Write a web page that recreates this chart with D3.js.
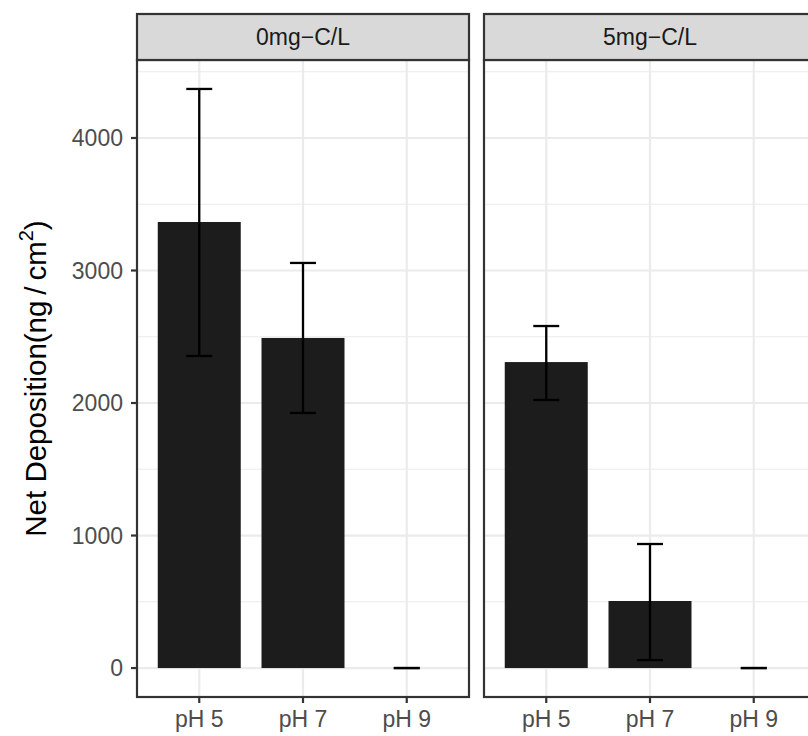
<!DOCTYPE html>
<html>
<head>
<meta charset="utf-8">
<script src="https://cdn.jsdelivr.net/npm/d3@7"></script>
<style>
  html, body { margin: 0; padding: 0; background: #fff; }
  svg { display: block; font-family: "Liberation Sans", Arial, Helvetica, sans-serif; }
</style>
</head>
<body>
<svg id="chart" width="808" height="736"></svg>
<script>
// Facets (carbon dose) and pH categories
const facets = ["0mg\u2212C/L", "5mg\u2212C/L"];
const categories = ["pH 5", "pH 7", "pH 9"];
// Mean net deposition per facet, in category order
const means = [
  [3366, 2491, 0],
  [2309, 506, 0]
];
// Error bar limits (lower, upper) per facet
const lower = [
  [2355, 1925, 0],
  [2023, 60, 0]
];
const upper = [
  [4370, 3057, 0],
  [2581, 936, 0]
];
const yTicks = [0, 1000, 2000, 3000, 4000];
const yMinor = [500, 1500, 2500, 3500, 4500];

const svg = d3.select("#chart");

const panelW = 332, panelGap = 15;
const panelLeft = 137;
const stripTop = 14, panelTop = 60, panelBottom = 697;
const tickFont = 23;

// y domain with 5% expansion around [0, max upper]
const yMax = d3.max(upper.flat());
const pad = yMax * 0.05;
const y = d3.scaleLinear().domain([-pad, yMax + pad]).range([panelBottom, panelTop]);

// discrete x with 0.6 additive expansion: continuous positions 1..n
const xc = d3.scaleLinear().domain([0.4, categories.length + 0.6]).range([0, panelW]);

const gridCol = "#ebebeb", borderCol = "#333333";

facets.forEach((f, fi) => {
  const x0 = panelLeft + fi * (panelW + panelGap);
  const g = svg.append("g").attr("transform", `translate(${x0},0)`);

  // minor and major grid
  g.selectAll(".ymin").data(yMinor).join("line")
    .attr("x1", 0).attr("x2", panelW)
    .attr("y1", d => y(d)).attr("y2", d => y(d))
    .attr("stroke", gridCol).attr("stroke-width", 1.1);
  g.selectAll(".ymaj").data(yTicks).join("line")
    .attr("x1", 0).attr("x2", panelW)
    .attr("y1", d => y(d)).attr("y2", d => y(d))
    .attr("stroke", gridCol).attr("stroke-width", 2.2);
  g.selectAll(".xmaj").data(categories).join("line")
    .attr("x1", (d, i) => xc(i + 1)).attr("x2", (d, i) => xc(i + 1))
    .attr("y1", panelTop).attr("y2", panelBottom)
    .attr("stroke", gridCol).attr("stroke-width", 2.2);

  // bars
  const bw = 0.8;
  g.selectAll(".bar").data(means[fi]).join("rect")
    .attr("x", (d, i) => xc(i + 1 - bw / 2))
    .attr("width", xc(bw) - xc(0))
    .attr("y", d => Math.min(y(d), y(0)))
    .attr("height", d => Math.abs(y(0) - y(d)))
    .attr("fill", "#1c1c1c");

  // error bars
  const ew = 0.25;
  const eb = g.selectAll(".err").data(categories.map((c, i) => ({ i, lo: lower[fi][i], hi: upper[fi][i] })))
    .join("g");
  eb.append("line")
    .attr("x1", d => xc(d.i + 1)).attr("x2", d => xc(d.i + 1))
    .attr("y1", d => y(d.lo)).attr("y2", d => y(d.hi))
    .attr("stroke", "#000").attr("stroke-width", 2.3);
  eb.append("line")
    .attr("x1", d => xc(d.i + 1 - ew / 2)).attr("x2", d => xc(d.i + 1 + ew / 2))
    .attr("y1", d => y(d.hi)).attr("y2", d => y(d.hi))
    .attr("stroke", "#000").attr("stroke-width", 2.3);
  eb.append("line")
    .attr("x1", d => xc(d.i + 1 - ew / 2)).attr("x2", d => xc(d.i + 1 + ew / 2))
    .attr("y1", d => y(d.lo)).attr("y2", d => y(d.lo))
    .attr("stroke", "#000").attr("stroke-width", 2.3);

  // panel border
  g.append("rect").attr("x", 0).attr("y", panelTop).attr("width", panelW)
    .attr("height", panelBottom - panelTop)
    .attr("fill", "none").attr("stroke", borderCol).attr("stroke-width", 2.2);

  // strip
  g.append("rect").attr("x", 0).attr("y", stripTop).attr("width", panelW)
    .attr("height", panelTop - stripTop)
    .attr("fill", "#d9d9d9").attr("stroke", borderCol).attr("stroke-width", 2.2);
  g.append("text").attr("x", panelW / 2).attr("y", 45)
    .attr("text-anchor", "middle")
    .attr("font-size", tickFont).attr("fill", "#1a1a1a").text(f);

  // x axis
  const xAxis = g.append("g").attr("transform", `translate(0,${panelBottom})`);
  xAxis.selectAll("line").data(categories).join("line")
    .attr("x1", (d, i) => xc(i + 1)).attr("x2", (d, i) => xc(i + 1))
    .attr("y1", 0).attr("y2", 6)
    .attr("stroke", borderCol).attr("stroke-width", 2.2);
  xAxis.selectAll("text").data(categories).join("text")
    .attr("x", (d, i) => xc(i + 1)).attr("y", 30)
    .attr("text-anchor", "middle").attr("font-size", tickFont)
    .attr("fill", "#4d4d4d").text(d => d);
});

// y axis on first panel
const yAxis = svg.append("g").attr("transform", `translate(${panelLeft},0)`);
yAxis.selectAll("line").data(yTicks).join("line")
  .attr("x1", -6).attr("x2", 0)
  .attr("y1", d => y(d)).attr("y2", d => y(d))
  .attr("stroke", borderCol).attr("stroke-width", 2.2);
yAxis.selectAll("text").data(yTicks).join("text")
  .attr("x", -14).attr("y", d => y(d)).attr("dy", "0.36em")
  .attr("text-anchor", "end").attr("font-size", tickFont)
  .attr("fill", "#4d4d4d").text(d => d);

// y axis title (with plotmath-style spacing around the slash)
const title = svg.append("text")
  .attr("transform", `translate(46,${(panelTop + panelBottom) / 2}) rotate(-90)`)
  .attr("text-anchor", "middle").attr("font-size", 29.5).attr("fill", "#000");
title.append("tspan").text("Net Deposition(ng\u2009/\u2009cm");
title.append("tspan").attr("font-size", 20).attr("dy", -13).text("2");
title.append("tspan").attr("dy", 13).text(")");
</script>
</body>
</html>
